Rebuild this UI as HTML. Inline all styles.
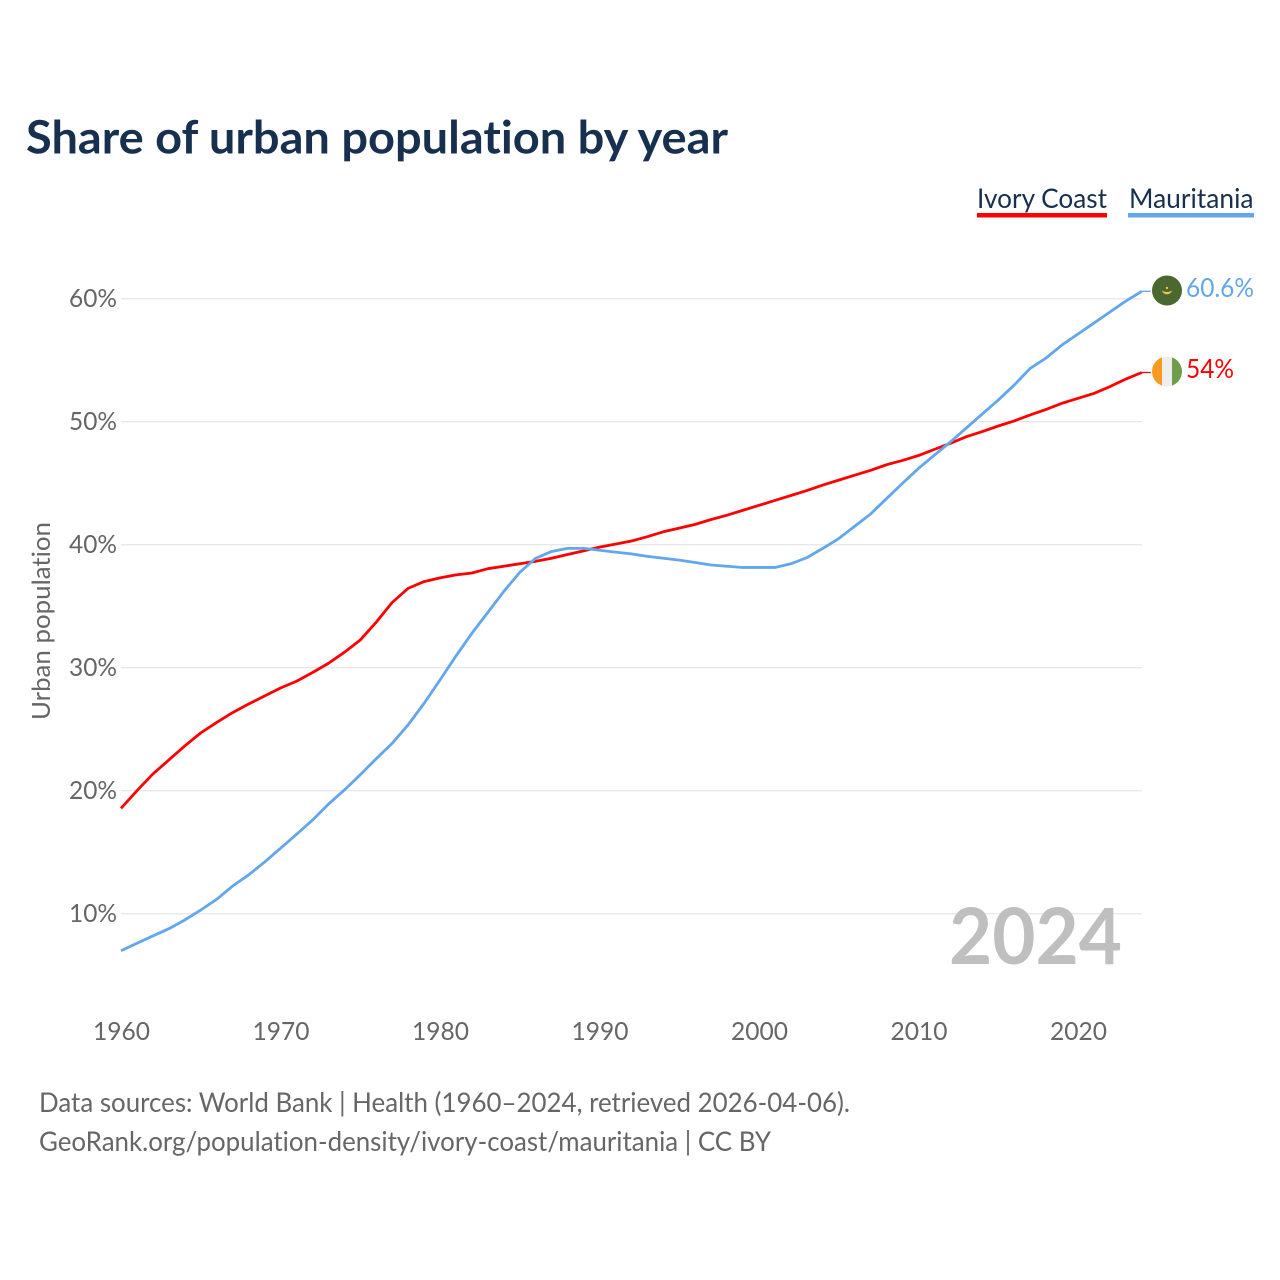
<!DOCTYPE html>
<html lang="en">
<head>
<meta charset="utf-8">
<title>Share of urban population by year</title>
<style>
html,body{margin:0;padding:0;background:#fff;width:1280px;height:1280px;overflow:hidden}
svg{display:block}
text{font-family:"Lato","Carlito","Liberation Sans",sans-serif;font-variant-ligatures:none;font-feature-settings:"liga" 0,"clig" 0}
</style>
</head>
<body>
<svg id="chart" xmlns="http://www.w3.org/2000/svg" width="1280" height="1280" viewBox="0 0 1280 1280">
  <rect width="1280" height="1280" fill="#ffffff"/>
  <text x="26" y="153.5" font-size="46" font-weight="700" fill="#18304f" textLength="702" lengthAdjust="spacingAndGlyphs">Share of urban population by year</text>

  <g>
    <g>
      <text x="977" y="208" font-size="27" fill="#18304f" textLength="130" lengthAdjust="spacingAndGlyphs">Ivory Coast</text>
      <rect x="977" y="213" width="130" height="4.5" fill="#ff0000"/>
    </g>
    <g>
      <text x="1129" y="208" font-size="27" fill="#18304f" textLength="124.5" lengthAdjust="spacingAndGlyphs">Mauritania</text>
      <rect x="1128" y="213" width="126" height="4.5" fill="#62a6ec"/>
    </g>
  </g>

  <g id="grid"></g>
  <g id="yticks"></g>
  <g id="xticks"></g>

  <text transform="translate(50,720) rotate(-90)" font-size="25" fill="#666666" textLength="198" lengthAdjust="spacingAndGlyphs">Urban population</text>

  <text x="949" y="964" font-size="78" font-weight="700" fill="#bfbfbf" textLength="173" lengthAdjust="spacingAndGlyphs">2024</text>

  <g id="series"></g>

  <g>
    <circle cx="1167" cy="290.5" r="15" fill="#4a682f"/>
    <path d="M1161.8 290.3 A5.4 5.4 0 0 0 1172.2 290.3 A6 3.4 0 0 1 1161.8 290.3 Z" fill="#f0c64e"/>
    <circle cx="1167" cy="288" r="1.2" fill="#e0c04c"/>
  </g>
  <g>
    <clipPath id="clip-ci"><circle cx="1167" cy="371.5" r="15"/></clipPath>
    <g clip-path="url(#clip-ci)">
      <rect x="1152" y="356" width="10" height="31" fill="#f79a1e"/>
      <rect x="1162" y="356" width="10" height="31" fill="#eeeeee"/>
      <rect x="1172" y="356" width="10" height="31" fill="#6e9f48"/>
    </g>
  </g>

  <text id="value-mauritania" x="1186" y="297" font-size="26" fill="#62a6ec" textLength="68" lengthAdjust="spacingAndGlyphs">60.6%</text>
  <text id="value-ivory" x="1186" y="378" font-size="26" fill="#ff0000" textLength="48" lengthAdjust="spacingAndGlyphs">54%</text>

  <text x="39" y="1112" font-size="27" fill="#666666" textLength="811" lengthAdjust="spacingAndGlyphs">Data sources: World Bank | Health (1960–2024, retrieved 2026-04-06).</text>
  <text x="39" y="1151" font-size="27" fill="#666666" textLength="732" lengthAdjust="spacingAndGlyphs">GeoRank.org/population-density/ivory-coast/mauritania | CC BY</text>
</svg>
<script>
const years = [1960,1961,1962,1963,1964,1965,1966,1967,1968,1969,1970,1971,1972,1973,1974,1975,1976,1977,1978,1979,1980,1981,1982,1983,1984,1985,1986,1987,1988,1989,1990,1991,1992,1993,1994,1995,1996,1997,1998,1999,2000,2001,2002,2003,2004,2005,2006,2007,2008,2009,2010,2011,2012,2013,2014,2015,2016,2017,2018,2019,2020,2021,2022,2023,2024];
const ivoryCoast = [18.57,20.0,21.36,22.5,23.64,24.7,25.55,26.35,27.05,27.7,28.35,28.9,29.6,30.35,31.25,32.25,33.7,35.3,36.45,37.0,37.3,37.55,37.7,38.05,38.25,38.45,38.65,38.9,39.2,39.5,39.8,40.05,40.3,40.65,41.05,41.35,41.65,42.05,42.4,42.8,43.2,43.6,44.0,44.4,44.85,45.25,45.65,46.05,46.5,46.85,47.25,47.75,48.24,48.78,49.2,49.65,50.06,50.55,51.0,51.5,51.9,52.3,52.85,53.47,54.0];
const mauritania = [6.99,7.6,8.19,8.78,9.49,10.3,11.17,12.25,13.15,14.2,15.32,16.45,17.6,18.9,20.05,21.3,22.6,23.85,25.35,27.1,29.0,30.95,32.8,34.5,36.2,37.75,38.9,39.45,39.7,39.7,39.55,39.4,39.25,39.05,38.9,38.75,38.55,38.35,38.25,38.15,38.15,38.15,38.45,38.95,39.7,40.5,41.5,42.5,43.75,45,46.2,47.29,48.35,49.49,50.63,51.76,52.98,54.33,55.18,56.24,57.13,58.02,58.92,59.81,60.6];
const yTickValues = [10,20,30,40,50,60];
const yTickLabels = ["10%","20%","30%","40%","50%","60%"];
const xTickValues = [1960,1970,1980,1990,2000,2010,2020];
const xTickLabels = ["1960","1970","1980","1990","2000","2010","2020"];

const NS = "http://www.w3.org/2000/svg";
function xScale(year){ return 121 + (year - 1960) * 15.95; }
function yScale(value){ return 298.7 + (60 - value) * 12.3; }
function make(tag, attrs, parent){
  const el = document.createElementNS(NS, tag);
  for (const k in attrs) el.setAttribute(k, attrs[k]);
  parent.appendChild(el);
  return el;
}

const grid = document.getElementById("grid");
const yticks = document.getElementById("yticks");
const xticks = document.getElementById("xticks");
const series = document.getElementById("series");

yTickValues.forEach(function(v, i){
  const y = yScale(v);
  const line = make("line", {x1:121, x2:1142, y1:y, y2:y, stroke:"#e9e9e9", "stroke-width":1.4}, grid);
  
  
  const t = make("text", {x:117, y:y+8.3, "text-anchor":"end", "font-size":25, fill:"#666666", textLength:48, lengthAdjust:"spacingAndGlyphs"}, yticks);
  
  
  t.textContent = yTickLabels[i];
});

xTickValues.forEach(function(v, i){
  const t = make("text", {x:xScale(v)+0.5, y:1040, "text-anchor":"middle", "font-size":25, fill:"#666666", textLength:57, lengthAdjust:"spacingAndGlyphs"}, xticks);
  
  
  t.textContent = xTickLabels[i];
});

function drawLine(values, color, name){
  const pts = values.map(function(v, i){ return xScale(years[i]).toFixed(2) + "," + yScale(v).toFixed(2); });
  const p = make("polyline", {points:pts.join(" "), fill:"none", stroke:color, "stroke-width":2.8, "stroke-linejoin":"round"}, series);
  
  
  const endY = yScale(values[values.length - 1]);
  const endX = xScale(years[years.length - 1]);
  const stub = make("line", {x1:endX, x2:endX + 9, y1:endY, y2:endY, stroke:color, "stroke-width":1.3}, series);
  
  
}
drawLine(ivoryCoast, "#ff0000", "line-ivory-coast");
drawLine(mauritania, "#62a6ec", "line-mauritania");
</script>
</body>
</html>
